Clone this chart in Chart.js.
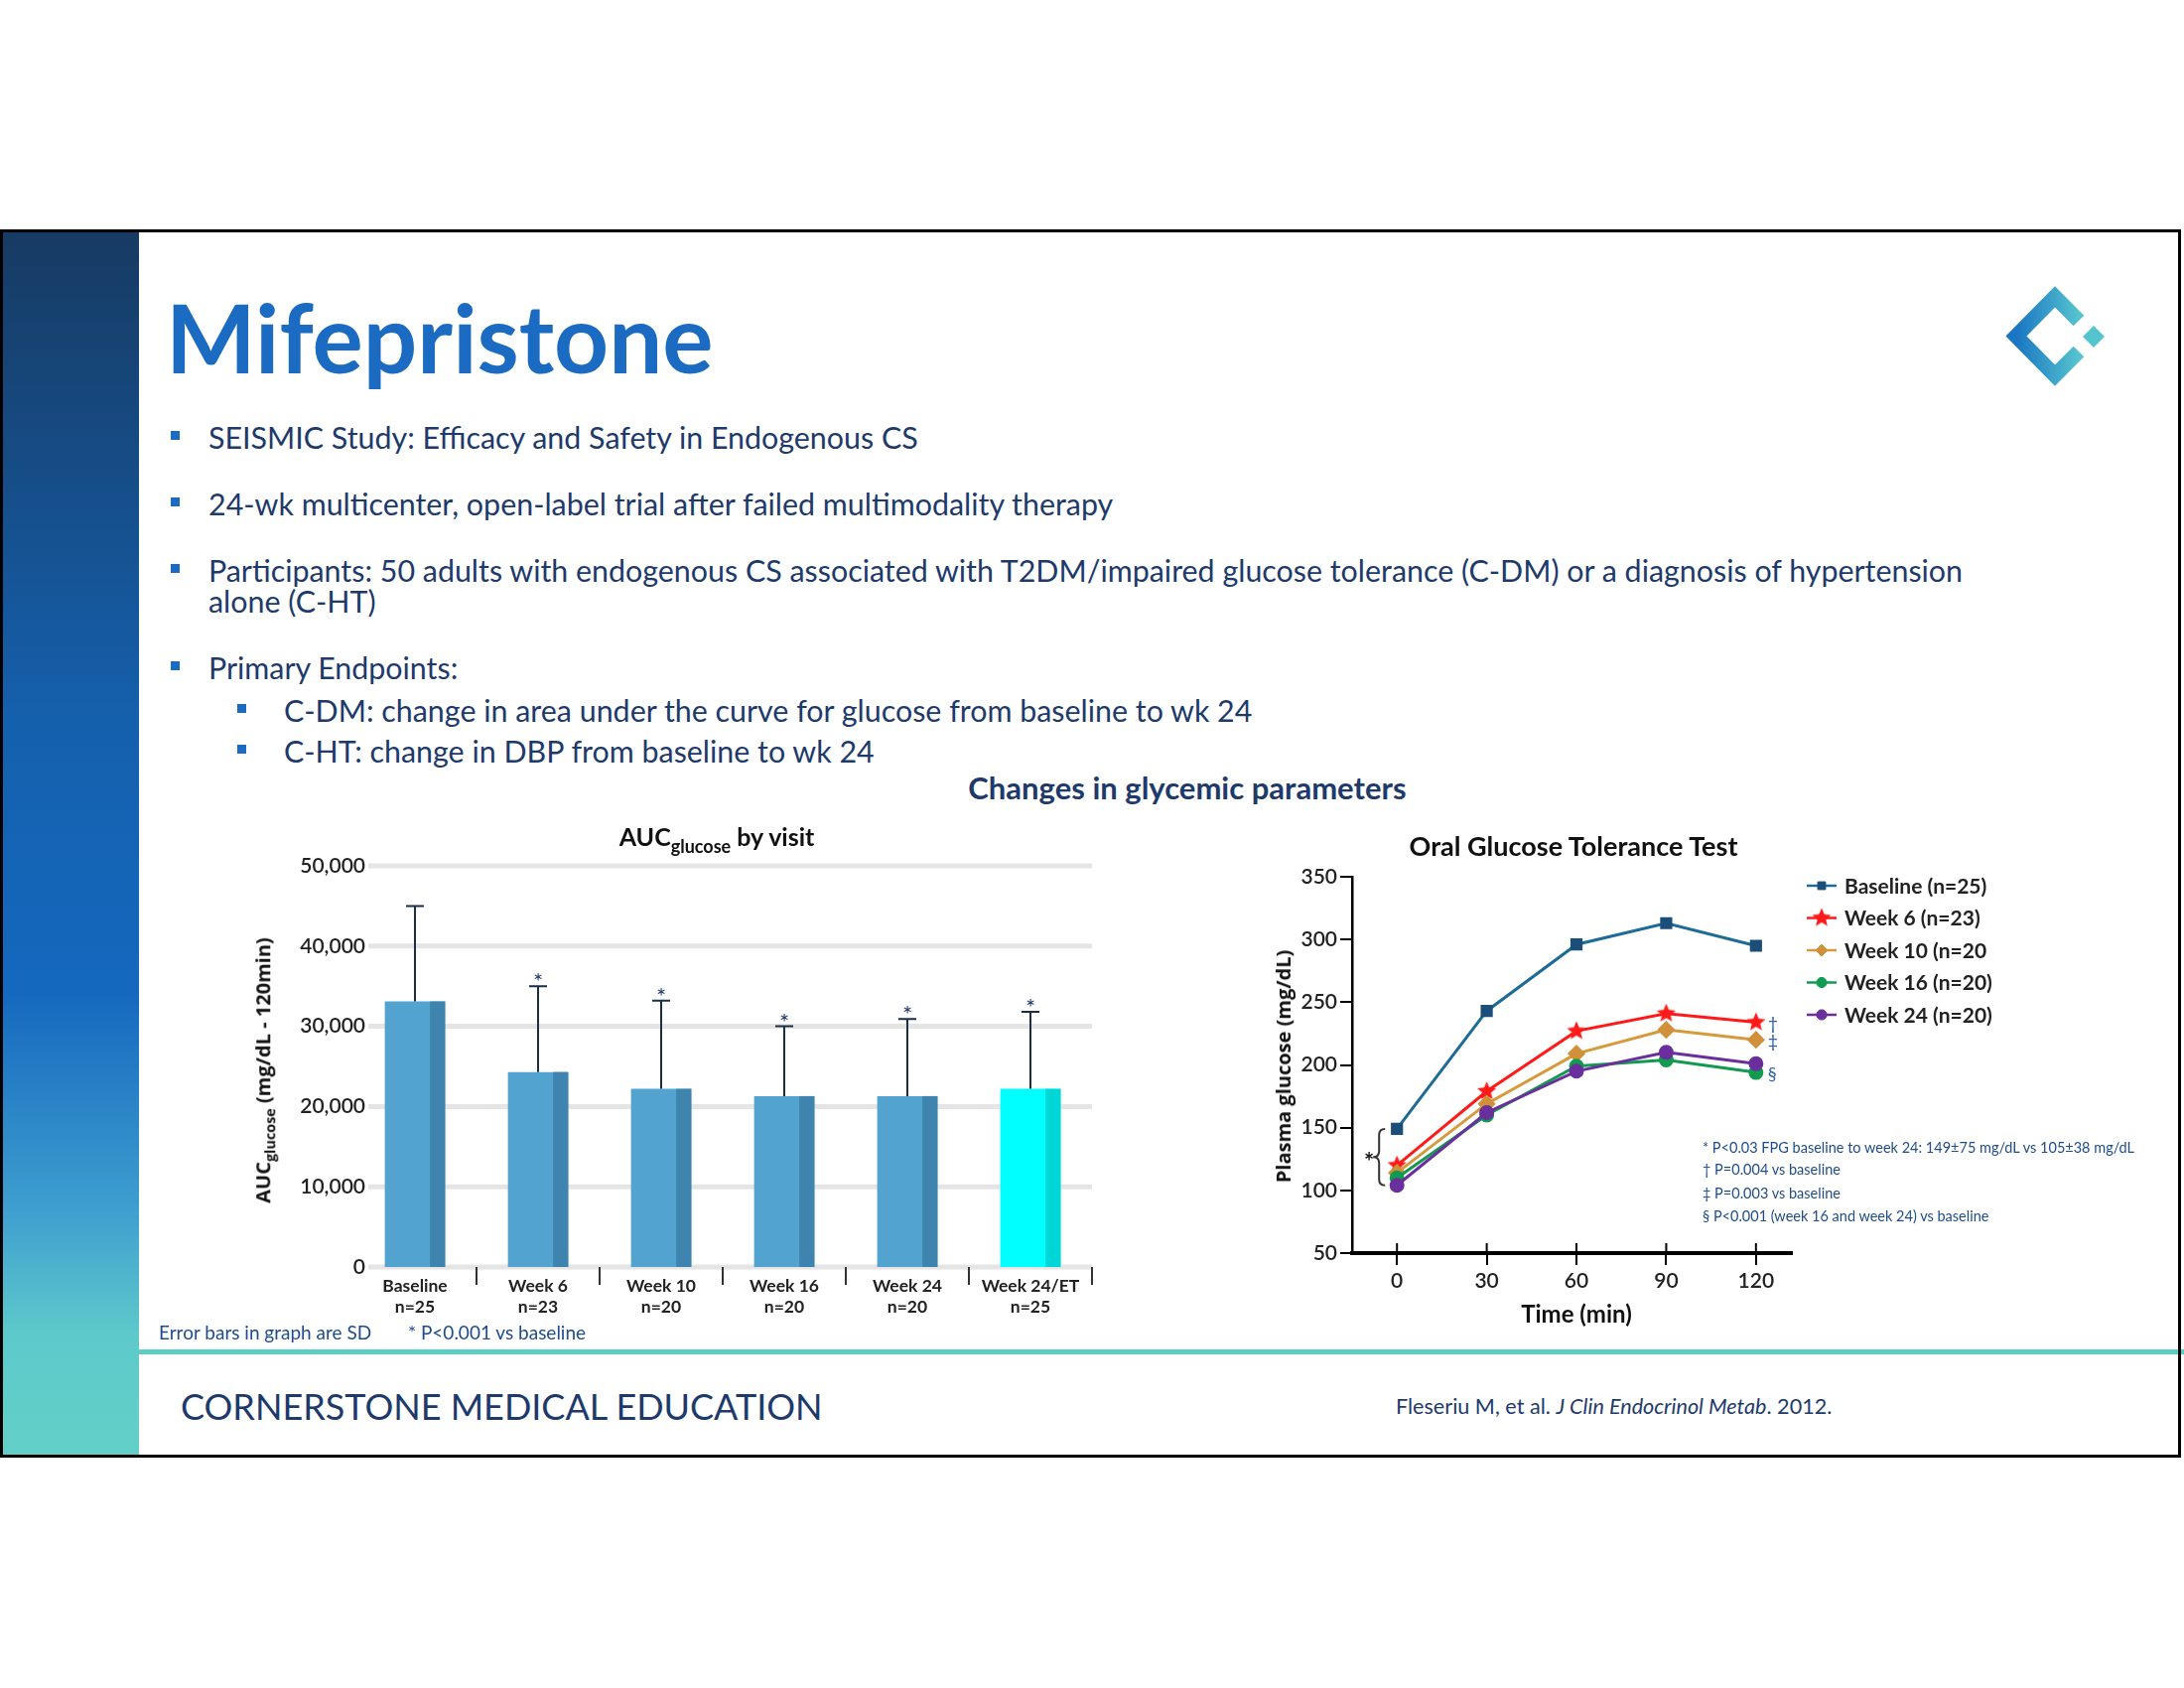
<!DOCTYPE html>
<html>
<head>
<meta charset="utf-8">
<script src="https://cdn.jsdelivr.net/npm/chart.js@4.4.1/dist/chart.umd.min.js"></script>
<style>
body { margin: 0; background: #fff; }
#page { position: relative; width: 2200px; height: 1700px; overflow: hidden; font-family: Lato, sans-serif; }
.abs { position: absolute; white-space: nowrap; }
.bul { position: absolute; width: 9px; height: 9px; background: #1a6bc1; }
.txt { color: #1e3a6b; font-size: 30.4px; line-height: 36px; }
.note { color: #1f4c8c; font-size: 14.5px; line-height: 20px; }
sub.s { font-size: 0.72em; vertical-align: -0.38em; }
canvas { position: absolute; }
</style>
</head>
<body>
<div id="page">
  <div class="abs" style="left:0;top:231px;width:140px;height:1237px;background:linear-gradient(180deg,#173a62 0%,#1560ad 40%,#1468be 62%,#3f9fcf 80%,#5ec9cb 90%,#63d0c7 100%);"></div>
  <div class="abs" style="left:140px;top:1359px;width:2060px;height:5px;background:#5ecdc6;"></div>
  <div class="abs" style="left:0;top:231px;width:2197px;height:1237px;box-sizing:border-box;border:3px solid #000;"></div>

  <svg class="abs" style="left:0;top:0" width="2200" height="1700">
    <defs>
      <linearGradient id="lg" x1="0" y1="0" x2="1" y2="0">
        <stop offset="0" stop-color="#1a76c2"/>
        <stop offset="1" stop-color="#55c3cf"/>
      </linearGradient>
    </defs>
    <polyline points="2094,323 2070,299 2031,338.5 2070,378 2094,354" fill="none" stroke="url(#lg)" stroke-width="15" stroke-linejoin="miter"/>
    <polygon points="2109,328 2120,339 2109,350 2098,339" fill="#56c4cf"/>
  </svg>

  <div class="abs" style="left:167px;top:281px;font-size:96px;line-height:116px;font-weight:700;color:#1a6bc1;">Mifepristone</div>

  <div class="bul" style="left:172px;top:434px"></div>
  <div class="abs txt" style="left:210px;top:422px">SEISMIC Study: Efficacy and Safety in Endogenous CS</div>
  <div class="bul" style="left:172px;top:501px"></div>
  <div class="abs txt" style="left:210px;top:489px">24-wk multicenter, open-label trial after failed multimodality therapy</div>
  <div class="bul" style="left:172px;top:568px"></div>
  <div class="abs txt" style="left:210px;top:556px">Participants: 50 adults with endogenous CS associated with T2DM/impaired glucose tolerance (C-DM) or a diagnosis of hypertension</div>
  <div class="abs txt" style="left:210px;top:587px">alone (C-HT)</div>
  <div class="bul" style="left:172px;top:666px"></div>
  <div class="abs txt" style="left:210px;top:654px">Primary Endpoints:</div>
  <div class="bul" style="left:239px;top:709px"></div>
  <div class="abs txt" style="left:286px;top:697px">C-DM: change in area under the curve for glucose from baseline to wk 24</div>
  <div class="bul" style="left:239px;top:750px"></div>
  <div class="abs txt" style="left:286px;top:738px">C-HT: change in DBP from baseline to wk 24</div>

  <div class="abs" style="left:1196px;top:775px;transform:translateX(-50%);font-size:31px;line-height:36px;font-weight:700;color:#1e3a6b;">Changes in glycemic parameters</div>

  <canvas id="aucChart" width="880" height="490" style="left:230px;top:850px"></canvas>
  <canvas id="ogttChart" width="740" height="490" style="left:1270px;top:860px"></canvas>

  <div class="abs" style="left:722px;top:827px;transform:translateX(-50%);font-size:25px;line-height:30px;font-weight:700;color:#111;">AUC<sub class="s">glucose</sub> by visit</div>
  <div class="abs" style="left:269px;top:1078px;transform:translate(-50%,-50%) rotate(-90deg);font-family:'Open Sans';font-size:20px;line-height:24px;font-weight:700;color:#111;">AUC<sub class="s">glucose</sub> (mg/dL - 120min)</div>

  <div class="abs" style="left:1585px;top:836px;transform:translateX(-50%);font-size:27px;line-height:32px;font-weight:700;color:#111;">Oral Glucose Tolerance Test</div>
  <div class="abs" style="left:1588px;top:1309px;transform:translateX(-50%);font-size:24px;line-height:28px;font-weight:700;color:#111;">Time (min)</div>
  <div class="abs" style="left:1293px;top:1074px;transform:translate(-50%,-50%) rotate(-90deg);font-family:'Open Sans';font-size:20px;line-height:24px;font-weight:700;color:#111;">Plasma glucose (mg/dL)</div>

  <div class="abs note" style="left:1715px;top:1146px">* P&lt;0.03 FPG baseline to week 24: 149±75 mg/dL vs 105±38 mg/dL</div>
  <div class="abs note" style="left:1715px;top:1168px">† P=0.004 vs baseline</div>
  <div class="abs note" style="left:1715px;top:1192px">‡ P=0.003 vs baseline</div>
  <div class="abs note" style="left:1715px;top:1215px">§ P&lt;0.001 (week 16 and week 24) vs baseline</div>

  <div class="abs" style="left:160px;top:1331px;font-size:19px;line-height:22px;color:#1f4c8c;">Error bars in graph are SD</div>
  <div class="abs" style="left:411px;top:1331px;font-size:19px;line-height:22px;color:#1f4c8c;">* P&lt;0.001 vs baseline</div>

  <div class="abs" style="left:182px;top:1395px;font-size:36px;line-height:42px;color:#1e3a6b;">CORNERSTONE MEDICAL EDUCATION</div>
  <div class="abs" style="left:1406px;top:1403px;font-size:21.6px;line-height:26px;color:#1e3a6b;">Fleseriu M, et al. <i>J Clin Endocrinol Metab</i>. 2012.</div>
</div>

<script>
// ---- AUC bar chart data ----
const visits = [['Baseline', 'n=25'], ['Week 6', 'n=23'], ['Week 10', 'n=20'], ['Week 16', 'n=20'], ['Week 24', 'n=20'], ['Week 24/ET', 'n=25']];
const aucMean = [33100, 24300, 22200, 21300, 21300, 22200];
const aucSdTop = [45000, 35000, 33200, 30000, 30900, 31800];
const aucSig = [false, true, true, true, true, true];
const aucTicks = [0, 10000, 20000, 30000, 40000, 50000];

// ---- OGTT line chart data ----
const ogttTimes = [0, 30, 60, 90, 120];
const ogttTicks = [50, 100, 150, 200, 250, 300, 350];
const ogttBaseline = [149, 243, 296, 313, 295];
const ogttWeek6 = [120, 179, 227, 241, 234];
const ogttWeek10 = [114, 169, 209, 228, 220];
const ogttWeek16 = [110, 160, 199, 204, 194];
const ogttWeek24 = [104, 162, 195, 210, 201];
const ogttNames = ['Baseline (n=25)', 'Week 6 (n=23)', 'Week 10 (n=20', 'Week 16 (n=20)', 'Week 24 (n=20)'];
const endMarks = ['', '†', '‡', '§', ''];

Chart.defaults.font.family = 'Lato';
Chart.defaults.color = '#222';

const barFill = ['#52a3cf', '#52a3cf', '#52a3cf', '#52a3cf', '#52a3cf', '#00ffff'];
const barShade = ['#3e84ae', '#3e84ae', '#3e84ae', '#3e84ae', '#3e84ae', '#00d6d6'];

const aucExtras = {
  id: 'aucExtras',
  beforeDatasetsDraw(chart) {
    const { ctx, chartArea, scales: { y } } = chart;
    ctx.save();
    ctx.strokeStyle = '#e5e5e5';
    ctx.lineWidth = 5;
    aucTicks.forEach(v => {
      const py = y.getPixelForValue(v);
      ctx.beginPath();
      ctx.moveTo(chartArea.left + 15, py);
      ctx.lineTo(chartArea.right, py);
      ctx.stroke();
    });
    // y tick labels (they sit slightly inside the first category)
    ctx.fillStyle = '#222';
    ctx.font = '600 21px Lato';
    ctx.textAlign = 'right';
    ctx.textBaseline = 'middle';
    aucTicks.forEach(v => {
      ctx.fillText(v.toLocaleString('en-US'), chartArea.left + 12, y.getPixelForValue(v));
    });
    ctx.restore();
  },
  afterDatasetsDraw(chart) {
    const { ctx, chartArea, scales: { x, y } } = chart;
    const meta = chart.getDatasetMeta(0);
    ctx.save();
    meta.data.forEach((bar, i) => {
      const w = bar.width;
      ctx.fillStyle = barShade[i];
      ctx.fillRect(bar.x + w / 4, bar.y, w / 4, bar.base - bar.y);
      const top = y.getPixelForValue(aucSdTop[i]);
      ctx.strokeStyle = '#1c2d48';
      ctx.lineWidth = 2;
      ctx.beginPath();
      ctx.moveTo(bar.x, bar.y);
      ctx.lineTo(bar.x, top);
      ctx.moveTo(bar.x - 9, top);
      ctx.lineTo(bar.x + 9, top);
      ctx.stroke();
      if (aucSig[i]) {
        ctx.fillStyle = '#1e3a6b';
        ctx.font = '24px Lato';
        ctx.textAlign = 'center';
        ctx.textBaseline = 'alphabetic';
        ctx.fillText('*', bar.x, top + 4);
      }
    });
    // separators between visits
    ctx.strokeStyle = '#333';
    ctx.lineWidth = 2;
    const n = visits.length;
    const step = x.getPixelForValue(1) - x.getPixelForValue(0);
    for (let i = 0; i < n; i++) {
      const px = x.getPixelForValue(i) + step / 2;
      ctx.beginPath();
      ctx.moveTo(px, chartArea.bottom);
      ctx.lineTo(px, chartArea.bottom + 18);
      ctx.stroke();
    }
    ctx.restore();
  }
};

new Chart(document.getElementById('aucChart'), {
  type: 'bar',
  data: {
    labels: visits,
    datasets: [{
      data: aucMean,
      backgroundColor: barFill,
      borderWidth: 0,
      categoryPercentage: 1,
      barPercentage: 0.49
    }]
  },
  options: {
    responsive: false,
    animation: false,
    layout: { padding: { top: 22, right: 10, left: 0, bottom: 0 } },
    plugins: { legend: { display: false }, tooltip: { enabled: false } },
    scales: {
      y: {
        min: 0,
        max: 50000,
        afterFit(s) { s.width = 126; },
        afterBuildTicks(s) { s.ticks = aucTicks.map(v => ({ value: v })); },
        grid: { display: false },
        border: { display: false },
        ticks: { display: false }
      },
      x: {
        afterFit(s) { s.height = 64; },
        grid: { display: false },
        border: { display: false },
        ticks: { padding: 1, color: '#222', font: { size: 17.5, weight: '700' } }
      }
    }
  },
  plugins: [aucExtras]
});

function starImage(color, r) {
  const c = document.createElement('canvas');
  c.width = c.height = 2 * r + 2;
  const g = c.getContext('2d');
  g.fillStyle = color;
  g.beginPath();
  for (let k = 0; k < 10; k++) {
    const rad = k % 2 ? r * 0.45 : r;
    const a = -Math.PI / 2 + k * Math.PI / 5;
    g.lineTo(r + 1 + rad * Math.cos(a), r + 1 + rad * Math.sin(a));
  }
  g.closePath();
  g.fill();
  return c;
}
const redStar = starImage('#ff1a1a', 10);

const ogttSeries = [
  { data: ogttBaseline, line: '#1f6b98', mark: '#1b4e78', style: 'rect', r: 6.5 },
  { data: ogttWeek6, line: '#ff1a1a', mark: '#ff1a1a', style: redStar, r: 9 },
  { data: ogttWeek10, line: '#d69a3c', mark: '#d1903a', style: 'rectRot', r: 7 },
  { data: ogttWeek16, line: '#109b50', mark: '#109b50', style: 'circle', r: 6 },
  { data: ogttWeek24, line: '#6a2f9c', mark: '#6a2f9c', style: 'circle', r: 6 }
];

const ogttExtras = {
  id: 'ogttExtras',
  afterDraw(chart) {
    const { ctx, chartArea, scales: { x, y } } = chart;
    ctx.save();
    // inner half of x ticks
    ctx.strokeStyle = '#000';
    ctx.lineWidth = 2;
    ogttTimes.forEach(t => {
      const px = x.getPixelForValue(t);
      ctx.beginPath();
      ctx.moveTo(px, chartArea.bottom - 10);
      ctx.lineTo(px, chartArea.bottom);
      ctx.stroke();
    });
    // significance marks at 120 min
    ctx.fillStyle = '#2b5ea8';
    ctx.font = '18px Lato';
    ctx.textAlign = 'left';
    ctx.textBaseline = 'middle';
    ogttSeries.forEach((s, i) => {
      if (!endMarks[i]) return;
      const last = s.data.length - 1;
      ctx.fillText(endMarks[i], x.getPixelForValue(ogttTimes[last]) + 12, y.getPixelForValue(s.data[last]) + 2);
    });
    // brace at time 0 (baseline vs week 24)
    const bx = x.getPixelForValue(0) - 18;
    const yTop = y.getPixelForValue(ogttBaseline[0]);
    const yBot = y.getPixelForValue(ogttWeek24[0]);
    const yMid = (yTop + yBot) / 2;
    ctx.strokeStyle = '#333';
    ctx.lineWidth = 2;
    ctx.beginPath();
    ctx.moveTo(bx + 6, yTop);
    ctx.quadraticCurveTo(bx, yTop, bx, yTop + 6);
    ctx.lineTo(bx, yMid - 6);
    ctx.quadraticCurveTo(bx, yMid, bx - 6, yMid);
    ctx.quadraticCurveTo(bx, yMid, bx, yMid + 6);
    ctx.lineTo(bx, yBot - 6);
    ctx.quadraticCurveTo(bx, yBot, bx + 6, yBot);
    ctx.stroke();
    ctx.fillStyle = '#111';
    ctx.font = 'bold 24px Lato';
    ctx.textAlign = 'right';
    ctx.fillText('*', bx - 5, yMid + 6);
    // legend
    const lx = chartArea.right + 15;
    ogttSeries.forEach((s, i) => {
      const ly = chartArea.top + 9 + i * 32.5;
      ctx.strokeStyle = s.line;
      ctx.lineWidth = 2.5;
      ctx.beginPath();
      ctx.moveTo(lx, ly);
      ctx.lineTo(lx + 30, ly);
      ctx.stroke();
      ctx.fillStyle = s.mark;
      ctx.strokeStyle = s.mark;
      ctx.lineWidth = 1;
      Chart.helpers.drawPoint(ctx, { pointStyle: s.style, radius: s.r * 0.85, rotation: 0, borderWidth: 1 }, lx + 15, ly);
      ctx.fillStyle = '#222';
      ctx.font = 'bold 21px Lato';
      ctx.textAlign = 'left';
      ctx.textBaseline = 'middle';
      ctx.fillText(ogttNames[i], lx + 38, ly + 1);
    });
    ctx.restore();
  }
};

new Chart(document.getElementById('ogttChart'), {
  type: 'line',
  data: {
    datasets: ogttSeries.map((s, i) => ({
      label: ogttNames[i],
      data: ogttTimes.map((t, k) => ({ x: t, y: s.data[k] })),
      borderColor: s.line,
      backgroundColor: s.mark,
      pointBackgroundColor: s.mark,
      pointBorderColor: s.mark,
      pointStyle: s.style,
      pointRadius: s.r,
      borderWidth: 3,
      tension: 0
    })).reverse()
  },
  options: {
    responsive: false,
    animation: false,
    layout: { padding: { top: 23, right: 205, left: 0, bottom: 0 } },
    plugins: { legend: { display: false }, tooltip: { enabled: false } },
    scales: {
      x: {
        type: 'linear',
        min: -15,
        max: 132,
        afterFit(s) { s.height = 88; },
        afterBuildTicks(s) { s.ticks = ogttTimes.map(v => ({ value: v })); },
        grid: { display: true, drawOnChartArea: false, drawTicks: true, tickLength: 12, color: '#000', lineWidth: 2 },
        border: { display: true, color: '#000', width: 4 },
        ticks: { padding: 4, color: '#222', font: { size: 21, weight: '600' } }
      },
      y: {
        min: 50,
        max: 350,
        afterFit(s) { s.width = 92; },
        afterBuildTicks(s) { s.ticks = ogttTicks.map(v => ({ value: v })); },
        grid: { display: true, drawOnChartArea: false, drawTicks: true, tickLength: 12, color: '#000', lineWidth: 2 },
        border: { display: true, color: '#000', width: 2.5 },
        ticks: { padding: 3, color: '#222', font: { size: 21, weight: '600' } }
      }
    }
  },
  plugins: [ogttExtras]
});
</script>
</body>
</html>
